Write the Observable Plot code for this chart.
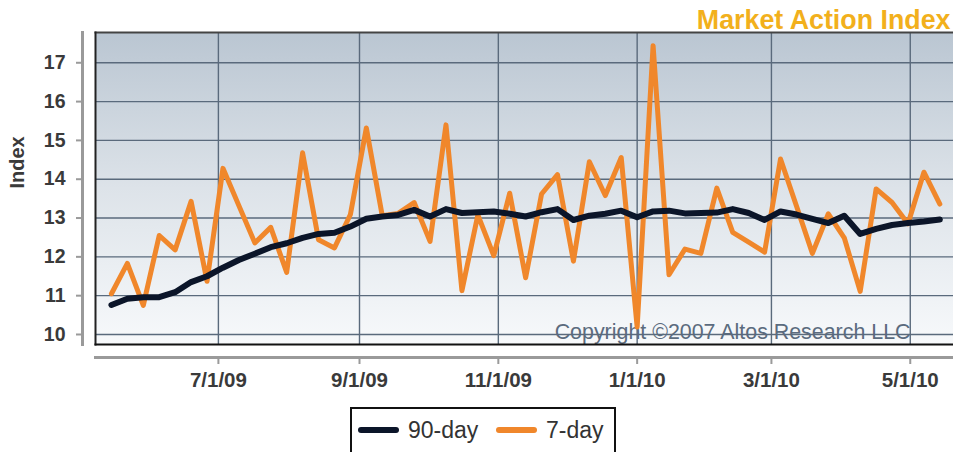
<!DOCTYPE html>
<html>
<head>
<meta charset="utf-8">
<script src="https://cdn.jsdelivr.net/npm/d3@7"></script>
<script src="https://cdn.jsdelivr.net/npm/@observablehq/plot@0.6"></script>
<style>
  html, body { margin: 0; padding: 0; background: #fff; overflow: hidden; }
  body { position: relative; width: 953px; height: 452px; font-family: "Liberation Sans", Arial, sans-serif; }
  #chart svg { display: block; }
  #legend { position: absolute; left: 350px; top: 407px; width: 262px; height: 60px; border: 2px solid #111; background: #fff; }
</style>
</head>
<body>
<div id="chart"></div>
<div id="legend"></div>
<script>
const title = "Market Action Index";
const yLabel = "Index";
const copyright = "Copyright \u00A92007 Altos Research LLC";
const seriesNames = ["90-day", "7-day"];
const seriesColors = ["#0b1529", "#f0872b"];

const dates = [
  "2009-05-15","2009-05-22","2009-05-29","2009-06-05","2009-06-12","2009-06-19","2009-06-26",
  "2009-07-03","2009-07-10","2009-07-17","2009-07-24","2009-07-31","2009-08-07","2009-08-14",
  "2009-08-21","2009-08-28","2009-09-04","2009-09-11","2009-09-18","2009-09-25","2009-10-02",
  "2009-10-09","2009-10-16","2009-10-23","2009-10-30","2009-11-06","2009-11-13","2009-11-20",
  "2009-11-27","2009-12-04","2009-12-11","2009-12-18","2009-12-25","2010-01-01","2010-01-08",
  "2010-01-15","2010-01-22","2010-01-29","2010-02-05","2010-02-12","2010-02-19","2010-02-26",
  "2010-03-05","2010-03-12","2010-03-19","2010-03-26","2010-04-02","2010-04-09","2010-04-16",
  "2010-04-23","2010-04-30","2010-05-07","2010-05-14"
];

const day90 = [10.76, 10.92, 10.96, 10.96, 11.09, 11.35, 11.50, 11.72, 11.92, 12.08,
  12.25, 12.35, 12.49, 12.59, 12.62, 12.78, 12.98, 13.04, 13.08, 13.21,
  13.04, 13.23, 13.13, 13.15, 13.17, 13.11, 13.04, 13.15, 13.23, 12.95,
  13.06, 13.11, 13.19, 13.02, 13.17, 13.19, 13.12, 13.13, 13.14, 13.23,
  13.13, 12.95, 13.17, 13.09, 12.98, 12.87, 13.06, 12.59, 12.72, 12.82,
  12.87, 12.91, 12.96];

const day7 = [11.05, 11.83, 10.75, 12.55, 12.18, 13.43, 11.37, 14.28, 13.32, 12.36,
  12.76, 11.60, 14.68, 12.44, 12.23, 13.09, 15.32, 13.06, 13.12, 13.40,
  12.40, 15.40, 11.13, 13.08, 12.03, 13.64, 11.46, 13.62, 14.12, 11.89,
  14.45, 13.58, 14.56, 10.19, 17.44, 11.54, 12.20, 12.09, 13.77, 12.63,
  12.38, 12.12, 14.52, 13.31, 12.09, 13.11, 12.49, 11.11, 13.75, 13.40,
  12.85, 14.18, 13.36];

const yTicks = [10, 11, 12, 13, 14, 15, 16, 17];
const xTickDates = ["2009-07-01","2009-09-01","2009-11-01","2010-01-01","2010-03-01","2010-05-01"];
const xTickLabels = ["7/1/09","9/1/09","11/1/09","1/1/10","3/1/10","5/1/10"];
const xDomain = ["2009-05-08", "2010-05-20"];
const yDomain = [9.742, 17.78];

const rows90 = dates.map((d, i) => ({date: new Date(d), value: day90[i]}));
const rows7 = dates.map((d, i) => ({date: new Date(d), value: day7[i]}));
const xTicks = xTickDates.map(d => new Date(d));

const font = "'Liberation Sans', Arial, sans-serif";

const svg = Plot.plot({
  width: 953,
  height: 405,
  marginLeft: 95,
  marginRight: 0,
  marginTop: 32,
  marginBottom: 61,
  style: {fontFamily: font, background: "transparent", overflow: "visible"},
  x: {type: "utc", domain: xDomain.map(d => new Date(d))},
  y: {domain: yDomain},
  marks: [
    Plot.frame({fill: "url(#bgGrad)", stroke: null}),
    Plot.gridY(yTicks, {stroke: "#5a6a7c", strokeOpacity: 1, strokeWidth: 1.4}),
    Plot.gridX(xTicks, {stroke: "#5a6a7c", strokeOpacity: 1, strokeWidth: 1.4}),
    Plot.text([copyright], {frameAnchor: "bottom-right", dx: -43, dy: -6, textAnchor: "end", lineAnchor: "bottom", fontSize: 21.4, fill: "#5b6b7e"}),
    Plot.frame({anchor: "top", stroke: "#444", strokeWidth: 2}),
    Plot.frame({anchor: "left", stroke: "#222", strokeWidth: 2}),
    Plot.frame({anchor: "bottom", stroke: "#111", strokeWidth: 2}),
    Plot.line(rows7, {x: "date", y: "value", stroke: seriesColors[1], strokeWidth: 5, strokeLinejoin: "round", strokeLinecap: "round"}),
    Plot.line(rows90, {x: "date", y: "value", stroke: seriesColors[0], strokeWidth: 6, strokeLinejoin: "round", strokeLinecap: "round"}),
    Plot.frame({anchor: "left", dx: -13, stroke: "#9a9a9a", strokeWidth: 3}),
    Plot.frame({anchor: "bottom", dy: 13, stroke: "#9a9a9a", strokeWidth: 3}),
    Plot.axisY(yTicks, {anchor: "left", dx: -13, tickSize: 6, tickPadding: 11, stroke: "#9a9a9a", strokeWidth: 2, fill: "#3a3a3a", fontSize: 19.5, fontWeight: "bold", label: null, tickFormat: d => String(d)}),
    Plot.axisX(xTicks, {anchor: "bottom", dy: 13, tickSize: 7, tickPadding: 8, stroke: "#9a9a9a", strokeWidth: 2, fill: "#3a3a3a", fontSize: 20.5, fontWeight: "bold", label: null, tickFormat: (d, i) => xTickLabels[i]}),
    Plot.text([yLabel], {frameAnchor: "left", dx: -77.5, rotate: -90, fontSize: 20, fontWeight: "bold", fill: "#3a3a3a"}),
    Plot.text([title], {frameAnchor: "top-right", dx: -3, dy: -4, textAnchor: "end", lineAnchor: "bottom", fontSize: 26.8, fontWeight: "bold", fill: "#f2b01c"})
  ]
});

const ns = "http://www.w3.org/2000/svg";
const defs = document.createElementNS(ns, "defs");
defs.innerHTML = `<linearGradient id="bgGrad" x1="0" y1="0" x2="0" y2="1">
  <stop offset="0" stop-color="#bac6d2"/>
  <stop offset="0.5" stop-color="#dde3e9"/>
  <stop offset="1" stop-color="#f7f9fb"/>
</linearGradient>`;
svg.insertBefore(defs, svg.firstChild);
document.getElementById("chart").appendChild(svg);

// Legend
const lg = d3.select("#legend").append("svg").attr("width", 262).attr("height", 60)
  .style("position", "absolute").style("left", "0px").style("top", "0px");
const items = [
  {name: seriesNames[0], color: seriesColors[0], x: 9, tx: 56},
  {name: seriesNames[1], color: seriesColors[1], x: 147, tx: 194}
];
for (const it of items) {
  lg.append("line").attr("x1", it.x).attr("x2", it.x + 35).attr("y1", 21).attr("y2", 21)
    .attr("stroke", it.color).attr("stroke-width", 6).attr("stroke-linecap", "round");
  lg.append("text").attr("x", it.tx).attr("y", 29).attr("font-family", font)
    .attr("font-size", 23).attr("fill", "#333").text(it.name);
}
</script>
</body>
</html>
